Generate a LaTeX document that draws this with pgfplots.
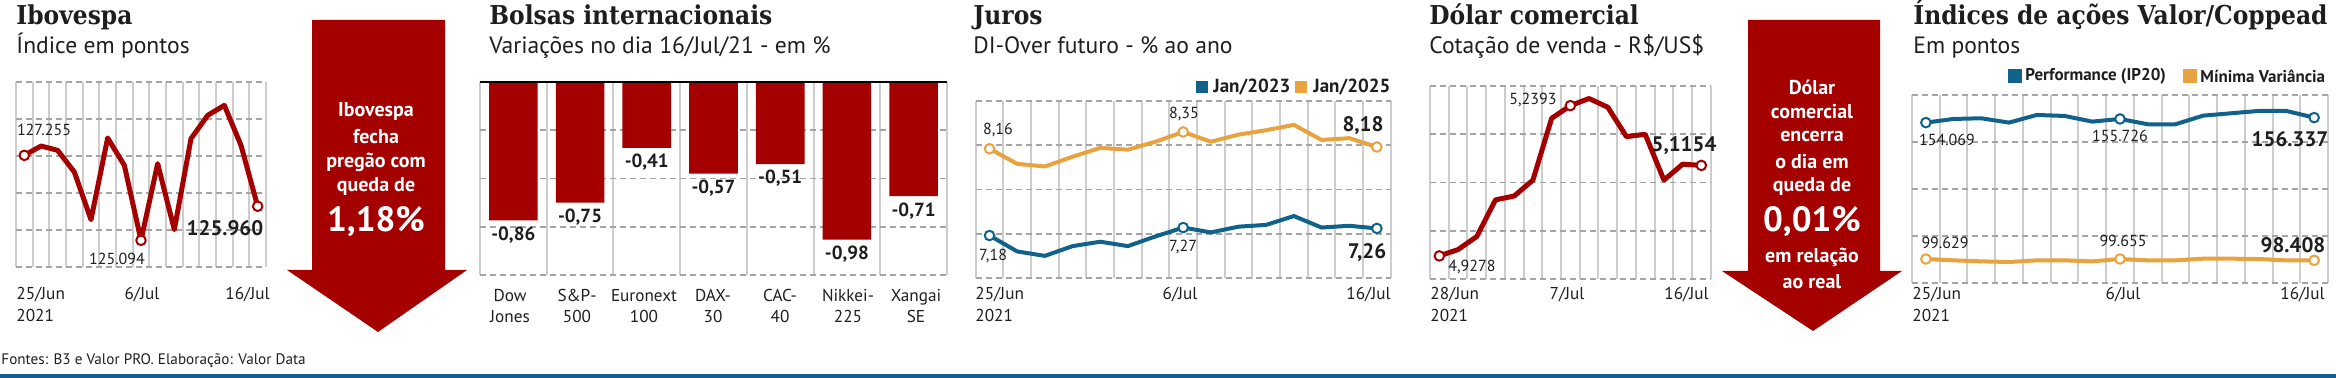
\documentclass[border=0pt]{standalone}
\usepackage{fontspec}
\setmainfont{PT Sans}
\newfontfamily\titlefont[FakeStretch=0.9]{DejaVu Serif}
\usepackage{pgfplots}
\pgfplotsset{compat=1.18}
\definecolor{vred}{RGB}{165,0,0}
\definecolor{vblue}{RGB}{16,98,138}
\definecolor{vorange}{RGB}{232,162,62}
\definecolor{vgrid}{RGB}{205,205,205}
\definecolor{vdash}{RGB}{165,165,165}
\definecolor{vtext}{RGB}{30,30,30}
\definecolor{vfoot}{RGB}{17,97,140}
\newcommand\titf{\titlefont\bfseries\fontsize{13}{14}\selectfont}
\newcommand\subf{\fontsize{11.8}{12}\selectfont}
\newcommand\tickf{\fontsize{8.6}{9}\selectfont}
\newcommand\labf{\fontsize{8}{9}\selectfont}
\newcommand\blabf{\bfseries\fontsize{10.5}{11}\selectfont}
\newcommand\barf{\bfseries\fontsize{9.5}{10}\selectfont}
\newcommand\legf{\bfseries\fontsize{8.5}{9}\selectfont}
\newcommand\legjf{\bfseries\fontsize{9.5}{10}\selectfont}
\newcommand\arrf{\bfseries\fontsize{10}{11}\selectfont}
\newcommand\arrbig{\bfseries\fontsize{17.5}{18}\selectfont}
\pgfplotsset{
  panel/.style={scale only axis, anchor=south west, clip=false,
    axis line style={draw=none}, tick style={draw=none},
    xticklabels={}, yticklabels={}, scaled y ticks=false, scaled x ticks=false,
    xmajorgrids, ymajorgrids,
    x grid style={vgrid, line width=1pt},
    y grid style={vdash, line width=0.8pt, dash pattern=on 3pt off 2pt},
    xmin=-0.5, xmax=14.5, xtick={-0.5,0.5,...,14.5}},
  dline/.style={line width=2pt, line join=round, line cap=round, mark=*,
    mark size=2.4pt, mark options={fill=white, line width=1pt, solid},
    mark indices={1,8,15}},
}
\begin{document}
\begin{tikzpicture}[x=0.5pt,y=0.5pt]
\useasboundingbox (0,0) rectangle (2336,378);
% ---------- Titles ----------
\begin{scope}[every node/.style={inner sep=0pt, text=vtext}]
\node[anchor=base west, font=\titf] at (16,353) {Ibovespa};
\node[anchor=base west, font=\subf] at (16,324) {Índice em pontos};
\node[anchor=base west, font=\titf] at (489,353) {Bolsas internacionais};
\node[anchor=base west, font=\subf] at (489,324) {Variações no dia 16/Jul/21 - em \%};
\node[anchor=base west, font=\titf] at (973,353) {Juros};
\node[anchor=base west, font=\subf] at (973,324) {DI-Over futuro - \% ao ano};
\node[anchor=base west, font=\titf] at (1429,353) {Dólar comercial};
\node[anchor=base west, font=\subf] at (1429,324) {Cotação de venda - R\$/US\$};
\node[anchor=base west, font=\titf] at (1913,353) {Índices de ações Valor/Coppead};
\node[anchor=base west, font=\subf] at (1913,324) {Em pontos};
\end{scope}
% ---------- Panel 1: Ibovespa ----------
\begin{axis}[panel, at={(8pt,55.5pt)}, width=125pt, height=92.5pt,
  ymin=124416, ymax=129120, ytick={124416,125357,126298,127238,128179,129120}]
\addplot[vred, dline, line width=2.5pt] coordinates {(0,127255)(1,127492)(2,127382)(3,126831)(4,125619)(5,127696)(6,127001)(7,125094)(8,127043)(9,125365)(10,127679)(11,128272)(12,128526)(13,127509)(14,125960)};
\end{axis}
% ---------- Panel 2: Bolsas ----------
\begin{axis}[panel, at={(240pt,51.5pt)}, width=233.5pt, height=96.5pt,
  xmin=-0.5, xmax=6.5, xtick={-0.5,0.5,...,6.5},
  ymin=-1.2, ymax=0, ytick={-1.2,-0.9,-0.6,-0.3}, ybar, bar width=24.3pt]
\addplot[fill=vred, draw=none] coordinates {(0,-0.86)(1,-0.75)(2,-0.41)(3,-0.57)(4,-0.51)(5,-0.98)(6,-0.71)};
\draw[black, line width=1pt] (axis cs:-0.5,0) -- (axis cs:6.5,0);
\begin{scope}[every node/.style={anchor=north, font=\barf, inner sep=0pt, yshift=-3pt, text=vtext}]
\node at (axis cs:0,-0.86) {-0,86};
\node at (axis cs:1,-0.75) {-0,75};
\node at (axis cs:2,-0.41) {-0,41};
\node at (axis cs:3,-0.57) {-0,57};
\node at (axis cs:4,-0.51) {-0,51};
\node at (axis cs:5,-0.98) {-0,98};
\node at (axis cs:6,-0.71) {-0,71};
\end{scope}
\end{axis}
% ---------- Panel 3: Juros ----------
\begin{axis}[panel, at={(487.85pt,50pt)}, width=207.5pt, height=88.5pt,
  ymin=6.7, ymax=8.7, ytick={6.7,7.2,7.7,8.2,8.7}]
\addplot[vorange, dline] coordinates {(0,8.16)(1,7.99)(2,7.96)(3,8.07)(4,8.17)(5,8.15)(6,8.24)(7,8.35)(8,8.24)(9,8.32)(10,8.37)(11,8.43)(12,8.26)(13,8.28)(14,8.18)};
\addplot[vblue, dline] coordinates {(0,7.18)(1,7.00)(2,6.95)(3,7.06)(4,7.11)(5,7.06)(6,7.17)(7,7.27)(8,7.215)(9,7.28)(10,7.30)(11,7.40)(12,7.27)(13,7.29)(14,7.26)};
\end{axis}
% ---------- Panel 4: Dolar ----------
\begin{axis}[panel, at={(715pt,49.5pt)}, width=140.35pt, height=96.5pt,
  ymin=4.88, ymax=5.28, ytick={4.88,4.98,5.08,5.18,5.28}]
\addplot[vred, dline, line width=2.5pt] coordinates {(0,4.9278)(1,4.941)(2,4.968)(3,5.044)(4,5.052)(5,5.085)(6,5.213)(7,5.2393)(8,5.254)(9,5.236)(10,5.175)(11,5.180)(12,5.085)(13,5.118)(14,5.1154)};
\end{axis}
% ---------- Panel 5: Indices ----------
\begin{axis}[panel, at={(956pt,47.5pt)}, width=208pt, height=94pt,
  ymin=81300, ymax=166600, ytick={81300,102625,123950,145275,166600}]
\addplot[vblue, dline] coordinates {(0,154069)(1,155730)(2,156030)(3,154070)(4,157540)(5,157090)(6,154520)(7,155726)(8,153320)(9,153320)(10,157240)(11,158300)(12,159360)(13,159360)(14,156337)};
\end{axis}
\begin{axis}[panel, at={(956pt,47.5pt)}, width=208pt, height=94pt,
  xmajorgrids=false, ymajorgrids=false, ymin=77800, ymax=249000]
\addplot[vorange, dline] coordinates {(0,99629)(1,98420)(2,97510)(3,96900)(4,98420)(5,98420)(6,97510)(7,99655)(8,98420)(9,98420)(10,99930)(11,99930)(12,99630)(13,98420)(14,98408)};
\end{axis}
% ---------- Arrows ----------
\fill[vred] (312,358) -- (445,358) -- (445,108) -- (467,108) -- (378,46) -- (287,108) -- (312,108) -- cycle;
\fill[vred] (1748,358) -- (1880,358) -- (1880,107) -- (1902,107) -- (1813,47) -- (1722,107) -- (1748,107) -- cycle;
\begin{scope}[every node/.style={inner sep=0pt, text=white, anchor=center}]
\node[font=\arrf] at (376,266) {Ibovespa};
\node[font=\arrf] at (376,241) {fecha};
\node[font=\arrf] at (376,216) {pregão com};
\node[font=\arrf] at (376,191) {queda de};
\node[font=\arrbig] at (376,156) {1,18\%};
\node[font=\arrf] at (1812,291) {Dólar};
\node[font=\arrf] at (1812,266) {comercial};
\node[font=\arrf] at (1812,241) {encerra};
\node[font=\arrf] at (1812,216) {o dia em};
\node[font=\arrf] at (1812,191) {queda de};
\node[font=\arrbig] at (1812,156) {0,01\%};
\node[font=\arrf] at (1812,121) {em relação};
\node[font=\arrf] at (1812,96) {ao real};
\end{scope}
% ---------- Tick labels ----------
\begin{scope}[every node/.style={inner sep=0pt, text=vtext, font=\tickf}]
\node[anchor=base west] at (16,78) {25/Jun};
\node[anchor=base west] at (16,56) {2021};
\node[anchor=base] at (142,78) {6/Jul};
\node[anchor=base east] at (270,78) {16/Jul};
\node[anchor=base west] at (975,78) {25/Jun};
\node[anchor=base west] at (975,56) {2021};
\node[anchor=base] at (1180,78) {6/Jul};
\node[anchor=base east] at (1391,78) {16/Jul};
\node[anchor=base west] at (1430,78) {28/Jun};
\node[anchor=base west] at (1430,56) {2021};
\node[anchor=base] at (1567,78) {7/Jul};
\node[anchor=base east] at (1709,78) {16/Jul};
\node[anchor=base west] at (1912,78) {25/Jun};
\node[anchor=base west] at (1912,56) {2021};
\node[anchor=base] at (2123,78) {6/Jul};
\node[anchor=base east] at (2325,78) {16/Jul};
% Bolsas categories
\node[anchor=base] at (510,76) {Dow};       \node[anchor=base] at (510,55) {Jones};
\node[anchor=base] at (577,76) {S\&P-};     \node[anchor=base] at (577,55) {500};
\node[anchor=base] at (644,76) {Euronext};  \node[anchor=base] at (644,55) {100};
\node[anchor=base] at (713,76) {DAX-};      \node[anchor=base] at (713,55) {30};
\node[anchor=base] at (780,76) {CAC-};      \node[anchor=base] at (780,55) {40};
\node[anchor=base] at (848,76) {Nikkei-};   \node[anchor=base] at (848,55) {225};
\node[anchor=base] at (916,76) {Xangai};    \node[anchor=base] at (916,55) {SE};
\end{scope}
% ---------- Data labels ----------
\begin{scope}[every node/.style={inner sep=0pt, text=vtext, anchor=center}]
\node[font=\labf] at (44,248) {127.255};
\node[font=\labf] at (117,119) {125.094};
\node[font=\blabf] at (225,150) {125.960};
\node[font=\labf] at (998,248) {8,16};
\node[font=\labf] at (1184,264) {8,35};
\node[font=\blabf] at (1363,252) {8,18};
\node[font=\labf] at (993,122) {7,18};
\node[font=\labf] at (1183,131) {7,27};
\node[font=\blabf] at (1367,125) {7,26};
\node[font=\labf] at (1533,278) {5,2393};
\node[font=\labf] at (1472,111) {4,9278};
\node[font=\blabf] at (1684,232) {5,1154};
\node[font=\labf] at (1947,238) {154.069};
\node[font=\labf] at (2120,242) {155.726};
\node[font=\blabf] at (2290,239) {156.337};
\node[font=\labf] at (1945,135) {99.629};
\node[font=\labf] at (2123,137) {99.655};
\node[font=\blabf] at (2293,133) {98.408};
\end{scope}
% ---------- Legends ----------
\fill[vblue] (1196,285) rectangle (1208,297);
\node[anchor=west, inner sep=0pt, font=\legjf, text=vtext] at (1213,291) {Jan/2023};
\fill[vorange] (1295,285) rectangle (1307,297);
\node[anchor=west, inner sep=0pt, font=\legjf, text=vtext] at (1313,291) {Jan/2025};
\fill[vblue] (2008,295) rectangle (2022,309);
\node[anchor=west, inner sep=0pt, font=\legf, text=vtext] at (2025,302) {Performance (IP20)};
\fill[vorange] (2183,295) rectangle (2197,309);
\node[anchor=west, inner sep=0pt, font=\legf, text=vtext] at (2200,302) {Mínima Variância};
% ---------- Footer ----------
\node[anchor=base west, inner sep=0pt, font=\fontsize{7.6}{8}\selectfont, text=vtext] at (1,13) {Fontes: B3 e Valor PRO. Elaboração: Valor Data};
\fill[vfoot] (0,0) rectangle (2336,4);
\end{tikzpicture}
\end{document}
